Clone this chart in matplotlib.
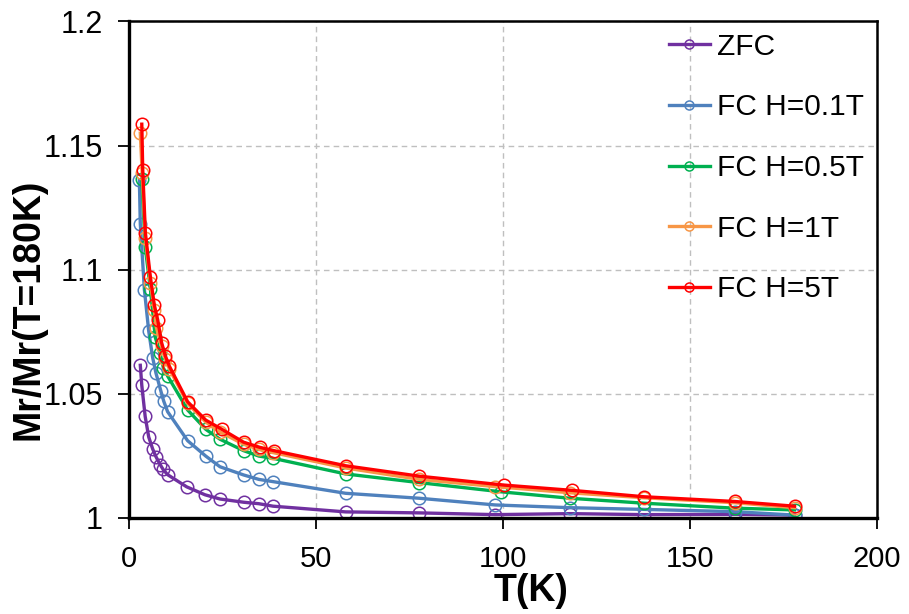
import matplotlib
matplotlib.use('Agg')
import matplotlib.pyplot as plt

plt.rcParams['font.family'] = ['Liberation Sans', 'DejaVu Sans']

# Datos
t_zfc = [3.0, 3.4, 4.3, 5.25, 6.3, 7.2, 8.3, 9.1, 10.3, 15.4, 20.3, 24.3, 30.6, 34.7,
         38.5, 57.9, 77.6, 97.9, 117.9, 137.7, 161.9, 177.9]
m_zfc = [1.0614, 1.0533, 1.0408, 1.0325, 1.0277, 1.0245, 1.0214, 1.0194, 1.0173, 1.0124,
         1.0092, 1.0075, 1.0062, 1.0056, 1.0046, 1.0023, 1.0019, 1.0012, 1.0016, 1.0012,
         1.0013, 1.0010]

t_fc01 = [2.75, 3.0, 4.1, 5.25, 6.3, 7.2, 8.5, 9.25, 10.3, 15.65, 20.5, 24.3, 30.6, 34.7,
          38.5, 57.9, 77.6, 97.9, 117.9, 137.7, 161.9, 177.9]
m_fc01 = [1.1361, 1.1184, 1.0918, 1.0752, 1.0645, 1.0582, 1.0510, 1.0470, 1.0427, 1.0310,
          1.0248, 1.0205, 1.0172, 1.0154, 1.0145, 1.0098, 1.0078, 1.0051, 1.0040, 1.0033,
          1.0024, 1.0010]

t_fc05 = [3.4, 4.3, 5.7, 7.0, 8.3, 9.2, 10.3, 15.65, 20.5, 24.3, 30.6, 34.7, 38.5, 57.9,
          77.6, 99.4, 117.9, 137.7, 161.9, 177.9]
m_fc05 = [1.1365, 1.1092, 1.0922, 1.0727, 1.0662, 1.0602, 1.0571, 1.0434, 1.0356, 1.0316,
          1.0270, 1.0248, 1.0239, 1.0176, 1.0141, 1.0104, 1.0078, 1.0058, 1.0038, 1.0031]

t_fc1 = [3.0, 3.5, 4.35, 5.7, 6.75, 7.3, 8.7, 9.7, 10.75, 15.65, 20.5, 24.3, 30.6, 34.7,
         38.5, 57.9, 77.6, 97.9, 117.9, 137.7, 161.9, 177.9]
m_fc1 = [1.1550, 1.1390, 1.1126, 1.0947, 1.0837, 1.0766, 1.0690, 1.0640, 1.0600, 1.0460,
         1.0385, 1.0345, 1.0296, 1.0275, 1.0262, 1.0200, 1.0154, 1.0125, 1.0100, 1.0080,
         1.0060, 1.0040]

t_fc5 = [3.4, 3.65, 4.35, 5.7, 6.75, 7.65, 8.7, 9.7, 10.75, 15.65, 20.5, 24.8, 30.6, 35.0,
         38.7, 57.9, 77.6, 100.3, 118.3, 137.7, 161.9, 177.9]
m_fc5 = [1.1586, 1.1402, 1.1149, 1.0969, 1.0857, 1.0797, 1.0705, 1.0652, 1.0611, 1.0467,
         1.0393, 1.0356, 1.0304, 1.0283, 1.0270, 1.0209, 1.0167, 1.0131, 1.0110, 1.0084,
         1.0065, 1.0046]

series = [
    (t_zfc, m_zfc, 'ZFC', '#7030A0'),
    (t_fc01, m_fc01, 'FC H=0.1T', '#4F81BD'),
    (t_fc05, m_fc05, 'FC H=0.5T', '#00B050'),
    (t_fc1, m_fc1, 'FC H=1T', '#F79646'),
    (t_fc5, m_fc5, 'FC H=5T', '#FF0000'),
]

fig = plt.figure(figsize=(9.09, 6.14), dpi=100)
ax = fig.add_axes([0.142, 0.157, 0.823, 0.808])

for t, m, lab, col in series:
    ax.plot(t, m, color=col, linewidth=2.4, marker='o', markersize=9,
            markerfacecolor='none', markeredgecolor=col, markeredgewidth=1.1,
            label=lab)

ax.set_xlim(0, 200)
ax.set_ylim(1.0, 1.2)
ax.set_xticks([0, 50, 100, 150, 200])
ax.set_yticks([1.0, 1.05, 1.1, 1.15, 1.2])
ax.set_yticklabels(['1', '1.05', '1.1', '1.15', '1.2'])

ax.grid(True, color='#BFBFBF', linestyle='--', linewidth=1, dashes=(4, 3))
ax.set_axisbelow(True)

for s in ax.spines.values():
    s.set_color('black')
    s.set_linewidth(1.8)
ax.spines['left'].set_linewidth(2.4)
ax.spines['bottom'].set_linewidth(2.4)

ax.tick_params(axis='both', direction='out', length=8, width=1.3, colors='black')
ax.tick_params(axis='y', labelsize=22, pad=11)
ax.tick_params(axis='x', labelsize=21, pad=12)

ax.set_xlabel('T(K)', fontsize=27, fontweight='bold', va='center')
ax.xaxis.set_label_coords(0.537, -0.147)
ax.set_ylabel('Mr/Mr(T=180K)', fontsize=27, fontweight='bold', va='center', ha='center')
ax.yaxis.set_label_coords(-0.135, 0.42)

leg = ax.legend(loc='upper left', bbox_to_anchor=(0.722, 0.977), frameon=False,
                fontsize=21.5, labelspacing=1.09, handlelength=1.35, handletextpad=0.25,
                borderpad=0, borderaxespad=0)
for h in leg.get_lines():
    h.set_markersize(6.5)

plt.savefig('out.png', dpi=100)
